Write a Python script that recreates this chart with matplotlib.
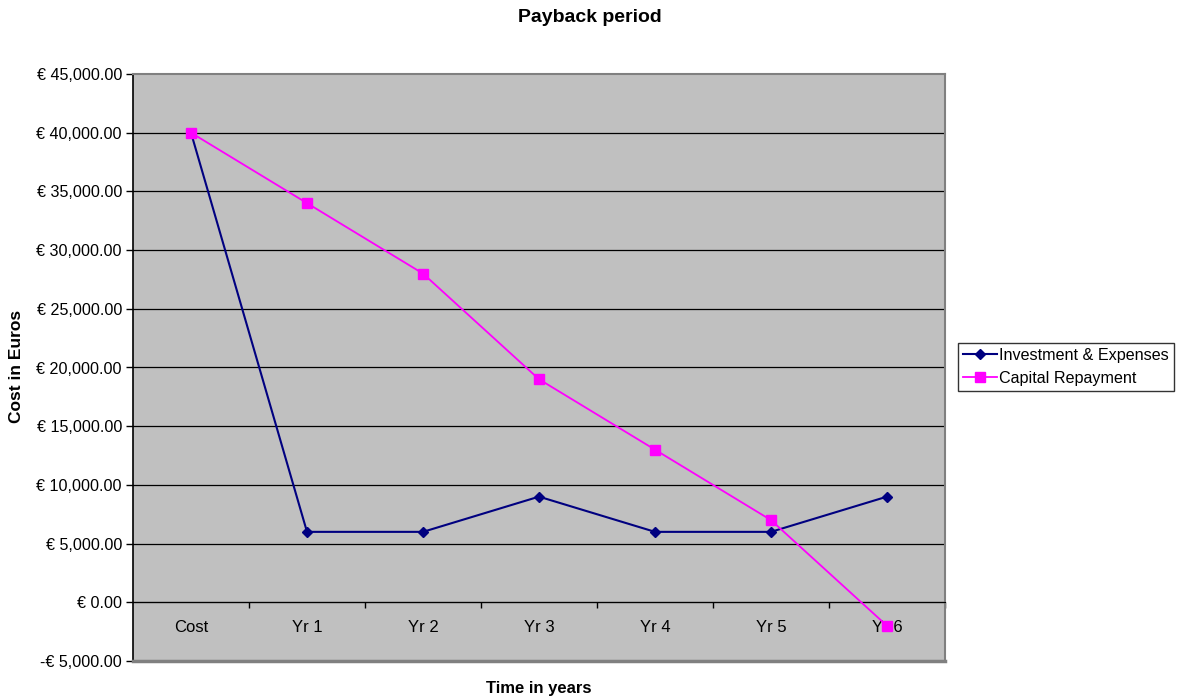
import matplotlib
matplotlib.use("Agg")
import matplotlib.pyplot as plt
from matplotlib.ticker import FuncFormatter, FixedLocator

plt.rcParams['font.family'] = ['Liberation Sans', 'DejaVu Sans']

# cumulative figures per period
periods = ["Cost", "Yr 1", "Yr 2", "Yr 3", "Yr 4", "Yr 5", "Yr 6"]
investment = [40000, 6000, 6000, 9000, 6000, 6000, 9000]
repayment = [40000, 34000, 28000, 19000, 13000, 7000, -2000]

fig = plt.figure(figsize=(11.8, 6.98), dpi=100)
ax = fig.add_axes([133 / 1180, 37 / 698, 812 / 1180, 587 / 698])
ax.set_facecolor("#c0c0c0")

x = list(range(len(periods)))
ax.plot(x, investment, color="#000080", lw=1.5, marker="D", ms=5.5,
        label="Investment & Expenses", zorder=3)
ax.plot(x, repayment, color="#ff00ff", lw=1.3, marker="s", ms=7,
        label="Capital Repayment", zorder=3)

ax.set_xlim(-0.5, len(periods) - 0.5)
ax.set_ylim(-5000, 45000)

# horizontal gridlines
yt = list(range(-5000, 45001, 5000))
ax.yaxis.set_major_locator(FixedLocator(yt))
for v in yt[1:-1]:
    ax.axhline(v, color="black", lw=0.9, zorder=1)


def euro(v, pos):
    s = f"€ {abs(v):,.2f}"
    return "-" + s if v < 0 else s


ax.yaxis.set_major_formatter(FuncFormatter(euro))
ax.tick_params(axis="y", direction="out", length=5, width=1, labelsize=11.6, pad=3)

# category axis sits on zero
ax.spines["bottom"].set_position(("data", 0))
ax.spines["bottom"].set_color("black")
ax.spines["left"].set_color("black")
ax.spines["left"].set_linewidth(1.2)
for s in ("top", "right"):
    ax.spines[s].set_color("#808080")
    ax.spines[s].set_linewidth(1.5)
ax.axhline(-5000, color="#808080", lw=2.5, zorder=4, clip_on=False)

ax.set_xticks(x)
ax.set_xticklabels(periods)
ax.tick_params(axis="x", which="major", length=0, labelsize=12, pad=13)
ax.set_xticks([i + 0.5 for i in x], minor=True)
ax.tick_params(axis="x", which="minor", direction="out", length=4, width=1)

fig.text(0.5, 1 - 18 / 698, "Payback period", ha="center", va="center",
         fontsize=14, fontweight="bold")
fig.text(539 / 1180, 1 - 689 / 698, "Time in years", ha="center", va="center",
         fontsize=12, fontweight="bold")
fig.text(17 / 1180, 1 - 366 / 698, "Cost in Euros", ha="center", va="center",
         rotation=90, fontsize=12.5, fontweight="bold")

leg = ax.legend(loc="upper left", bbox_to_anchor=(958 / 1180, 1 - 343 / 698),
                bbox_transform=fig.transFigure, borderaxespad=0, fontsize=11.6,
                frameon=True, fancybox=False, shadow=False, handlelength=2.1,
                handletextpad=0.15, labelspacing=0.5, borderpad=0.3)
leg.get_frame().set_edgecolor("black")
leg.get_frame().set_linewidth(1)

fig.savefig("out.png", dpi=100)
